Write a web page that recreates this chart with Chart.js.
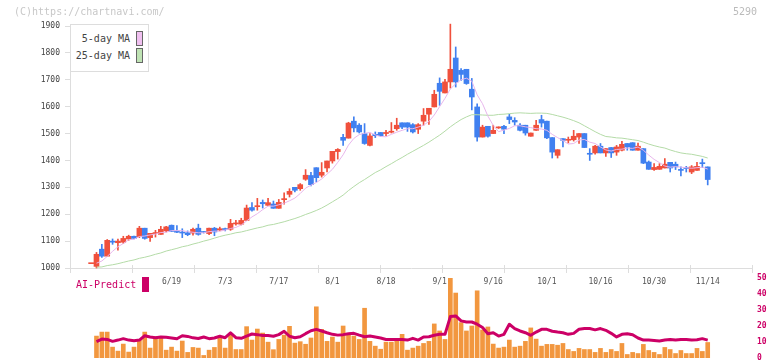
<!DOCTYPE html>
<html><head><meta charset="utf-8">
<script src="https://cdn.jsdelivr.net/npm/chart.js@4/dist/chart.umd.min.js"></script>
<style>
html,body{margin:0;padding:0;background:#fff;}
#wrap{position:relative;width:772px;height:361px;overflow:hidden;font-family:'DejaVu Sans Mono','Liberation Mono',monospace;}
canvas{position:absolute;left:0;top:0;}
.t{position:absolute;white-space:nowrap;font-size:10px;line-height:10px;}
.sw{position:absolute;width:7px;height:15px;box-sizing:border-box;border:1px solid #666;}
</style></head><body>
<div id="wrap">
<canvas id="priceChart" width="772" height="361"></canvas>
<canvas id="aiChart" width="772" height="361"></canvas>
<div class="t" style="left:14px;top:7px;color:#c8c8c8">(C)https://chartnavi.com/</div>
<div class="t" style="right:15px;top:7px;color:#bbb">5290</div>
<div style="position:absolute;left:70px;top:24px;width:79px;height:48px;box-sizing:border-box;border:1px solid #ddd;background:#fff"></div>
<div class="t" style="right:642px;top:34px;color:#444">5-day MA</div>
<div class="t" style="right:642px;top:51px;color:#444">25-day MA</div>
<div class="sw" style="left:136px;top:31px;background:#f0c0f0"></div>
<div class="sw" style="left:136px;top:48px;background:#bfe3b4"></div>
<div class="t" style="left:76px;top:280px;color:#cc0066">AI-Predict</div>
<div style="position:absolute;left:142px;top:277px;width:7px;height:15px;background:#cc0066"></div>
</div>
<script>
const MONO = "'DejaVu Sans Mono','Liberation Mono',monospace";
const FIRST_INDEX = -1; // index of first candle (the day before 5/30)
const tickLabels = ['6/19','7/3','7/17','8/1','8/18','9/1','9/16','10/1','10/16','10/30','11/14'];
const tickIndex  = [14,24,34,44,54,64,74,84,94,104,114];

const open = [1016,1006,1070,1044,1100,1094,1096,1108,1118,1117,1148,
1113,1128,1125,1138,1159,1138,1133,1131,1130,1148,
1133,1128,1148,1141,1145,1144,1164,1163,1177,1225,
1228,1244,1233,1238,1222,1254,1274,1300,1295,1330,
1344,1373,1345,1372,1398,1433,1486,1483,1546,1531,
1500,1456,1497,1504,1500,1505,1518,1540,1540,1533,
1516,1546,1572,1599,1687,1651,1692,1781,1735,1739,
1665,1599,1487,1527,1500,1521,1527,1562,1549,1531,
1531,1490,1512,1552,1546,1485,1419,1481,1475,1477,
1487,1500,1425,1428,1453,1428,1448,1431,1438,1463,
1466,1438,1444,1394,1366,1367,1372,1393,1386,1364,
1371,1357,1363,1389,1376];
const high = [1016,1058,1088,1106,1108,1108,1118,1122,1119,1155,1148,
1129,1140,1155,1155,1160,1158,1146,1138,1148,1163,
1136,1148,1151,1152,1148,1181,1177,1185,1234,1243,
1259,1253,1259,1249,1255,1280,1295,1300,1314,1366,
1356,1373,1392,1398,1434,1444,1497,1542,1562,1537,
1537,1500,1506,1504,1512,1541,1557,1540,1540,1537,
1537,1593,1594,1661,1707,1702,1907,1822,1742,1739,
1705,1611,1531,1527,1531,1525,1531,1572,1559,1537,
1531,1502,1549,1568,1546,1485,1440,1481,1487,1512,
1500,1500,1444,1456,1463,1444,1448,1456,1471,1463,
1466,1465,1444,1398,1388,1388,1407,1393,1394,1376,
1378,1381,1393,1405,1376];
const low = [1016,1000,1039,1044,1088,1066,1091,1103,1108,1113,1107,
1099,1115,1125,1134,1136,1131,1113,1120,1122,1122,
1130,1124,1120,1138,1138,1140,1159,1160,1177,1211,
1215,1223,1233,1222,1222,1237,1264,1283,1289,1326,
1305,1320,1338,1357,1390,1405,1456,1483,1506,1502,
1460,1454,1485,1490,1492,1502,1512,1518,1508,1502,
1500,1531,1534,1599,1605,1651,1669,1673,1698,1683,
1588,1472,1487,1487,1500,1519,1500,1537,1531,1510,
1494,1490,1512,1524,1481,1409,1409,1450,1465,1472,
1463,1448,1400,1423,1428,1415,1411,1419,1435,1438,
1438,1438,1388,1367,1363,1367,1372,1357,1366,1342,
1357,1351,1363,1374,1309];
const close = [1016,1051,1044,1103,1096,1100,1110,1118,1110,1148,1110,
1129,1131,1144,1153,1136,1133,1130,1124,1144,1125,
1132,1148,1134,1146,1143,1166,1167,1177,1223,1215,
1229,1239,1243,1222,1244,1258,1285,1289,1310,1345,
1310,1336,1356,1398,1434,1441,1475,1539,1521,1506,
1463,1491,1492,1492,1504,1507,1531,1524,1524,1506,
1533,1568,1594,1646,1657,1692,1739,1692,1720,1686,
1636,1487,1524,1490,1512,1523,1516,1552,1543,1512,
1502,1502,1531,1539,1484,1431,1440,1475,1477,1490,
1500,1448,1423,1453,1428,1444,1428,1450,1460,1450,
1438,1453,1390,1367,1374,1378,1386,1372,1376,1363,
1370,1376,1378,1388,1329];
const ma5 = [null,1018,1026,1043,1062,1079,1091,1105,1107,1117,1119,
1123,1126,1132,1133,1139,1139,1139,1135,1133,1131,
1131,1135,1137,1137,1141,1147,1151,1160,1175,1190,
1202,1217,1230,1230,1235,1241,1250,1260,1277,1297,
1308,1318,1331,1349,1367,1393,1421,1457,1482,1496,
1501,1504,1495,1489,1488,1497,1505,1512,1518,1518,
1524,1531,1545,1569,1600,1631,1666,1685,1700,1706,
1695,1644,1611,1565,1530,1507,1513,1519,1529,1529,
1525,1522,1518,1517,1512,1497,1485,1474,1461,1463,
1476,1478,1468,1463,1450,1439,1435,1441,1442,1446,
1445,1450,1438,1420,1404,1392,1379,1375,1377,1375,
1373,1371,1373,1375,1368];
const ma25 = [null,1003,1004,1009,1012,1016,1021,1026,1030,1036,1040,
1045,1051,1056,1063,1068,1073,1079,1083,1089,1094,
1100,1105,1111,1117,1122,1126,1131,1134,1139,1144,
1149,1153,1159,1162,1167,1172,1178,1184,1191,1199,
1206,1214,1223,1234,1246,1258,1271,1288,1303,1317,
1329,1342,1355,1365,1377,1388,1400,1411,1423,1434,
1445,1456,1468,1481,1494,1509,1525,1539,1552,1562,
1570,1570,1569,1568,1568,1571,1572,1574,1576,1577,
1576,1575,1576,1576,1575,1571,1566,1561,1555,1548,
1540,1529,1518,1507,1497,1489,1487,1484,1483,1480,
1477,1474,1468,1461,1455,1450,1446,1439,1433,1428,
1425,1423,1419,1415,1409];
const aiPredict = [null,10.2,11.8,11.6,10.4,11.2,12.1,11.2,10.8,11.2,13.9,
13.1,12.6,13.1,12.9,12.5,12.0,13.9,13.5,12.6,12.2,
13.1,12.1,12.5,13.6,12.7,15.7,12.7,12.3,13.7,15.0,
14.6,14.0,14.0,13.6,14.6,16.7,13.6,12.7,13.3,15.2,
17.0,17.9,16.9,15.8,14.8,14.3,14.6,15.2,15.4,14.3,
13.3,13.7,13.1,12.5,11.6,11.6,11.6,11.6,11.2,12.3,
11.2,13.1,13.3,14.2,14.8,14.8,25.9,26.3,23.2,22.5,
22.5,21.1,19.0,15.2,15.8,13.7,14.8,21.1,18.4,16.9,
15.8,14.2,16.2,17.9,17.9,16.7,16.2,15.8,14.8,15.4,
18.0,18.4,18.4,17.6,18.4,17.3,15.4,13.2,14.8,15.2,
14.5,12.5,11.2,11.2,11.0,10.6,11.2,11.6,11.2,11.6,
11.6,11.2,11.4,12.1,11.2];
// volume, relative scale (tallest day = 50)
const volume = [null,13.7,16.2,16.2,6.8,4.3,8.7,3.7,6.8,11.2,16.2,
6.2,13.3,13.3,4.9,6.8,4.3,10.6,3.5,6.6,6.2,
1.6,4.9,6.6,12.5,6.2,15.0,5.3,5.3,19.6,11.2,
18.1,15.6,9.9,5.2,11.6,14.3,19.8,9.3,10.2,8.6,
12.5,32.0,17.9,10.4,13.1,9.9,20.0,14.8,13.7,11.6,
31.1,10.4,7.4,5.5,9.9,9.9,11.2,14.8,4.9,6.2,
7.4,9.1,10.4,21.3,16.9,11.6,50.0,40.6,22.1,16.9,
20.0,42.0,17.5,19.4,8.7,6.2,6.8,11.2,6.8,7.4,
10.4,18.8,11.8,7.4,8.5,8.5,8.0,9.1,5.3,4.1,
6.0,5.3,5.3,3.5,6.0,3.5,5.3,4.1,9.1,2.2,
3.5,2.8,8.5,4.7,3.5,2.2,6.6,5.3,2.8,4.7,
2.8,2.8,6.0,4.1,9.7];

const X_MIN = -4.94, X_MAX = 122.26;
const xIndex = open.map((_, k) => k + FIRST_INDEX);
const COL_UP = '#f0503c', COL_DOWN = '#4080f0';
const candleColors = open.map((o, k) => close[k] >= o ? COL_UP : COL_DOWN);

const zeroPad = ax => { ax.paddingTop = 0; ax.paddingBottom = 0; ax.paddingLeft = 0; ax.paddingRight = 0; };

const axisPlacer = {
  id: 'axisPlacer',
  afterLayout(chart) {
    const b = chart.chartArea.bottom;
    const x = chart.scales.x, xt = chart.scales.xt;
    x.top = b; x.bottom = b + 88;
    xt.top = b - 3; xt.bottom = b + 5;
  }
};

new Chart(document.getElementById('priceChart'), {
  type: 'bar',
  data: {
    datasets: [
      { type: 'line', label: '5-day MA', data: xIndex.map((x, k) => ({x, y: ma5[k]})),
        borderColor: '#e8b6ec', borderWidth: 1, pointRadius: 0, tension: 0, order: 0, xAxisID: 'x', yAxisID: 'y' },
      { type: 'line', label: '25-day MA', data: xIndex.map((x, k) => ({x, y: ma25[k]})),
        borderColor: '#b4dba7', borderWidth: 1, pointRadius: 0, tension: 0, order: 0, xAxisID: 'x', yAxisID: 'y' },
      { label: 'High-Low', data: xIndex.map((x, k) => ({x, y: [low[k], high[k]]})),
        backgroundColor: candleColors, barThickness: 1, grouped: false, order: 2, clip: false, xAxisID: 'x', yAxisID: 'y' },
      { label: 'Open-Close', data: xIndex.map((x, k) => ({x, y: [open[k], close[k]]})),
        backgroundColor: candleColors, barThickness: 5, minBarLength: 1, grouped: false, order: 1, clip: false, xAxisID: 'x', yAxisID: 'y' }
    ]
  },
  options: {
    responsive: false, animation: false, events: [],
    layout: { padding: { left: 0, right: 20, top: 26, bottom: 0 } },
    plugins: { legend: { display: false }, tooltip: { enabled: false } },
    scales: {
      x: {
        type: 'linear', position: 'bottom', min: X_MIN, max: X_MAX, offset: false,
        afterBuildTicks: ax => { ax.ticks = tickIndex.map(v => ({ value: v })); },
        afterFit: ax => { ax.height = 88; zeroPad(ax); },
        ticks: { autoSkip: false, maxRotation: 0, minRotation: 0, padding: 9, color: '#555',
                 font: { family: MONO, size: 8 },
                 callback: v => { const i = tickIndex.indexOf(v); return i >= 0 ? tickLabels[i] : ''; } },
        grid: { display: true, drawOnChartArea: false, drawTicks: false, offset: false },
        border: { display: true, color: '#dddddd', width: 1 }
      },
      xt: {
        type: 'linear', position: 'bottom', min: 0, max: 11, offset: false,
        afterFit: ax => { ax.height = 5; zeroPad(ax); },
        ticks: { display: false, stepSize: 1, maxTicksLimit: 20 },
        grid: { display: true, drawOnChartArea: false, drawTicks: true, tickLength: 8, color: '#dddddd', offset: false },
        border: { display: false }
      },
      y: {
        type: 'linear', position: 'left', min: 1000, max: 1900,
        afterFit: ax => { ax.width = 70; zeroPad(ax); },
        ticks: { stepSize: 100, color: '#444', padding: 5, font: { family: MONO, size: 8 }, callback: v => String(v) },
        grid: { drawOnChartArea: false, drawTicks: true, tickLength: 5, color: '#dddddd' },
        border: { display: true, color: '#dddddd' }
      }
    }
  },
  plugins: [axisPlacer]
});

new Chart(document.getElementById('aiChart'), {
  type: 'bar',
  data: {
    datasets: [
      { type: 'line', label: 'AI-Predict', data: xIndex.map((x, k) => ({x, y: aiPredict[k]})),
        borderColor: '#cc0066', borderWidth: 3, pointRadius: 0, tension: 0, borderJoinStyle: 'round',
        order: 0, xAxisID: 'x', yAxisID: 'y' },
      { label: 'Volume', data: xIndex.map((x, k) => ({x, y: volume[k]})),
        backgroundColor: '#f2973f', barThickness: 4, grouped: false, order: 1, xAxisID: 'x', yAxisID: 'yv' }
    ]
  },
  options: {
    responsive: false, animation: false, events: [],
    layout: { padding: { left: 70, right: 0, top: 278, bottom: 3 } },
    plugins: { legend: { display: false }, tooltip: { enabled: false } },
    scales: {
      x: { type: 'linear', min: X_MIN, max: X_MAX, offset: false, display: false },
      yv: { type: 'linear', min: 0, max: 50, display: false },
      y: {
        type: 'linear', position: 'right', min: 0, max: 50,
        afterFit: ax => { ax.width = 20; zeroPad(ax); },
        ticks: { stepSize: 10, color: '#cc0066', padding: 5, font: { family: MONO, size: 8, weight: 'bold' }, callback: v => String(v) },
        grid: { display: false, drawTicks: false },
        border: { display: false }
      }
    }
  }
});
</script>
</body></html>
